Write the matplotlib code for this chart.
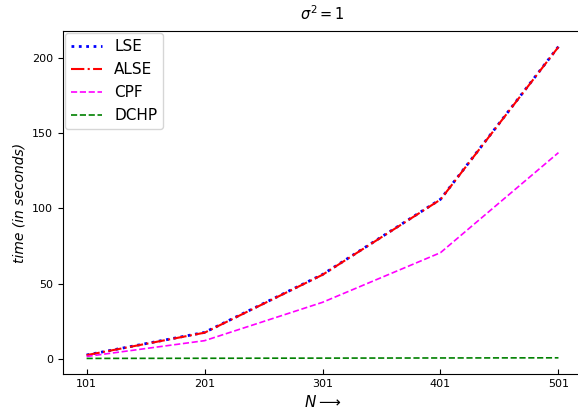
import matplotlib
matplotlib.use("Agg")
import matplotlib.pyplot as plt

N = [101, 201, 301, 401, 501]
lse = [2.5, 17.5, 56.0, 106.0, 207.5]
alse = [2.4, 17.3, 55.8, 105.8, 207.3]
cpf = [1.5, 12.0, 37.5, 70.5, 137.0]
dchp = [0.2, 0.3, 0.4, 0.5, 0.6]
xtick_labels = ["101", "201", "301", "401", "501"]

fig = plt.figure(figsize=(5.78, 4.13), dpi=100)
ax = fig.add_axes([0.109, 0.0944, 0.898, 0.8305])

ax.plot(N, lse, color="blue", linestyle=":", linewidth=2.0, label="LSE")
ax.plot(N, alse, color="red", linestyle="-.", linewidth=1.5, label="ALSE")
ax.plot(N, cpf, color="magenta", linestyle="--", linewidth=1.2, label="CPF")
ax.plot(N, dchp, color="green", linestyle="--", linewidth=1.2, label="DCHP")

ax.set_xticks(N)
ax.set_xticklabels(xtick_labels)
ax.set_yticks([0, 50, 100, 150, 200])
ax.tick_params(axis="x", direction="in", labelsize=8)
ax.tick_params(axis="y", direction="out", labelsize=8)

ax.set_xlabel(r"$N \longrightarrow$", fontsize=11)
ax.set_ylabel("time (in seconds)", fontsize=10, style="italic")
ax.set_title(r"$\sigma^2 = 1$", fontsize=10.5, pad=8)

ax.legend(loc="upper left", fontsize=11, borderaxespad=0.15,
          handlelength=2.0, labelspacing=0.52)

fig.savefig("out.png", dpi=100)
